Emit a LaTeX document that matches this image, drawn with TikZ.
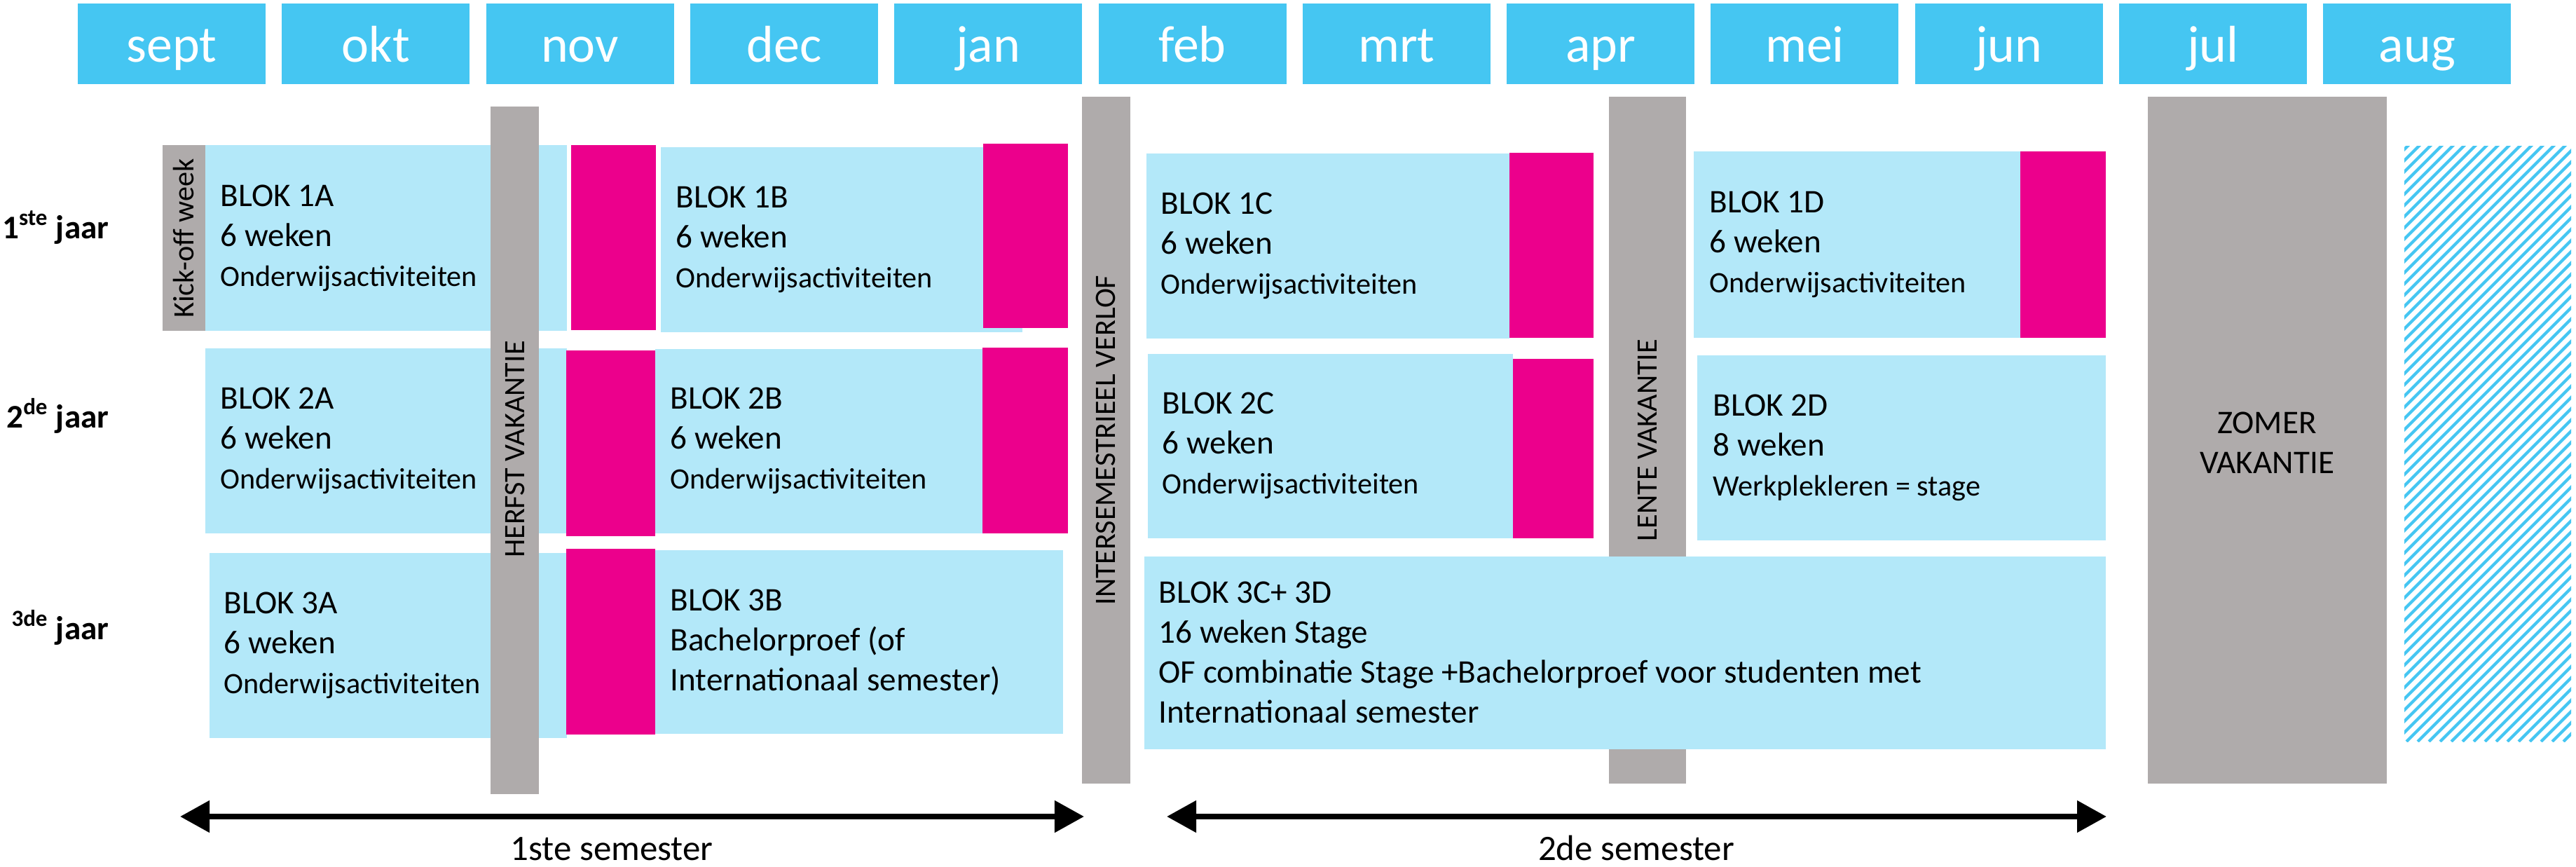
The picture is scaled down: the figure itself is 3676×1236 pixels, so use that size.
\documentclass[tikz,border=0pt]{standalone}
\usepackage{fontspec}
\setmainfont{Carlito}
\usetikzlibrary{arrows.meta}
\definecolor{kop}{HTML}{45C6F2}
\definecolor{licht}{HTML}{B3E8F9}
\definecolor{roze}{HTML}{EC008C}
\definecolor{grijs}{HTML}{AFABAB}
\newcommand{\groot}{\fontsize{13.4}{16.2}\selectfont}
\newcommand{\klein}{\fontsize{12}{15}\selectfont}
\newcommand{\maandfont}{\fontsize{21}{25}\selectfont}

\begin{document}
\begin{tikzpicture}[x=0.01cm,y=-0.01cm]
\tikzset{
  maandtekst/.style={anchor=base,text=white,font=\maandfont,inner sep=0pt},
  jaar/.style={anchor=base east,font=\groot\bfseries,inner sep=0pt},
  blok/.style={anchor=west,align=left,font=\groot,inner sep=0pt},
  balk/.style={rotate=90,font=\klein,inner sep=0pt},
  pijl/.style={{Triangle[length=0.42cm,width=0.44cm]}-{Triangle[length=0.42cm,width=0.44cm]},line width=0.08cm},
  streep/.style={kop,line width=0.042cm}
}
\useasboundingbox (0,0) rectangle (3676,1236);

\foreach \m [count=\i from 0] in {sept,okt,nov,dec,jan,feb,mrt,apr,mei,jun,jul,aug}{
  \fill[kop] ({111+291.3*\i},5) rectangle ++(268,115);
  \node[maandtekst] (m\i) at ({245+291.3*\i},88) {\m};
}

\node[jaar] (j1) at (156,340) {1\textsuperscript{ste} jaar};
\node[jaar] (j2) at (156,610) {2\textsuperscript{de} jaar};
\node[jaar] (j3) at (156,912) {\textsuperscript{3de} jaar};

\fill[licht] (293,207) rectangle (809,472);
\fill[licht] (943,210) rectangle (1459,474);
\fill[licht] (1636,219) rectangle (2154,483);
\fill[licht] (2417,216) rectangle (2883,482);
\fill[licht] (293,497) rectangle (809,761);
\fill[licht] (935,498) rectangle (1402,761);
\fill[licht] (1638,505) rectangle (2159,768);
\fill[licht] (2422,507) rectangle (3005,771);
\fill[licht] (299,789) rectangle (809,1053);
\fill[licht] (935,785) rectangle (1517,1047);

\fill[roze] (815,207) rectangle (936,471);
\fill[roze] (1403,205) rectangle (1524,468);
\fill[roze] (2154,218) rectangle (2274,482);
\fill[roze] (2883,216) rectangle (3005,482);
\fill[roze] (808,500) rectangle (935,765);
\fill[roze] (1402,496) rectangle (1524,761);
\fill[roze] (2159,512) rectangle (2274,768);
\fill[roze] (808,783) rectangle (935,1048);

\fill[grijs] (232,207) rectangle (293,472);
\fill[grijs] (700,152) rectangle (769,1133);
\fill[grijs] (1544,138) rectangle (1613,1118);
\fill[grijs] (2296,138) rectangle (2406,1118);
\fill[grijs] (3065,138) rectangle (3406,1118);

\fill[licht] (1633,794) rectangle (3005,1069);

\begin{scope}
\clip (3431,208) rectangle (3669,1058);
\foreach \i in {2570,2586,...,3690}
  \draw[streep] (\i,1058) -- ++(900,-900);
\end{scope}

\node[balk] (kick) at (262,340) {Kick-off week};
\node[balk] (herfst) at (735,641) {HERFST VAKANTIE};
\node[balk] (verlof) at (1578,628) {INTERSEMESTRIEEL VERLOF};
\node[balk] (lente) at (2351,628) {LENTE VAKANTIE};
\node[align=center,font=\groot,inner sep=0pt] (zomer) at (3235,632) {ZOMER\\VAKANTIE};

\node[blok] (b1a) at (314,340) {BLOK 1A\\6 weken\\{\klein Onderwijsactiviteiten}};
\node[blok] (b1b) at (964,342) {BLOK 1B\\6 weken\\{\klein Onderwijsactiviteiten}};
\node[blok] (b1c) at (1656,351) {BLOK 1C\\6 weken\\{\klein Onderwijsactiviteiten}};
\node[blok] (b1d) at (2439,349) {BLOK 1D\\6 weken\\{\klein Onderwijsactiviteiten}};
\node[blok] (b2a) at (314,629) {BLOK 2A\\6 weken\\{\klein Onderwijsactiviteiten}};
\node[blok] (b2b) at (956,629) {BLOK 2B\\6 weken\\{\klein Onderwijsactiviteiten}};
\node[blok] (b2c) at (1658,636) {BLOK 2C\\6 weken\\{\klein Onderwijsactiviteiten}};
\node[blok] (b2d) at (2444,639) {BLOK 2D\\8 weken\\{\klein Werkplekleren = stage}};
\node[blok] (b3a) at (319,921) {BLOK 3A\\6 weken\\{\klein Onderwijsactiviteiten}};
\node[blok] (b3b) at (956,916) {BLOK 3B\\Bachelorproef (of\\Internationaal semester)};
\node[blok] (b3c) at (1653,931) {BLOK 3C+ 3D\\16 weken Stage\\OF combinatie Stage +Bachelorproef voor studenten met\\Internationaal semester};

\coordinate (s1a) at (257,1165);
\coordinate (s1b) at (1547,1165);
\coordinate (s2a) at (1665,1165);
\coordinate (s2b) at (3006,1165);
\draw[pijl] (s1a) -- (s1b);
\draw[pijl] (s2a) -- (s2b);
\node[anchor=base,font=\fontsize{14.5}{17}\selectfont,inner sep=0pt] (sem1) at (873,1227) {1ste semester};
\node[anchor=base,font=\fontsize{14.5}{17}\selectfont,inner sep=0pt] (sem2) at (2335,1227) {2de semester};
\end{tikzpicture}
\end{document}
